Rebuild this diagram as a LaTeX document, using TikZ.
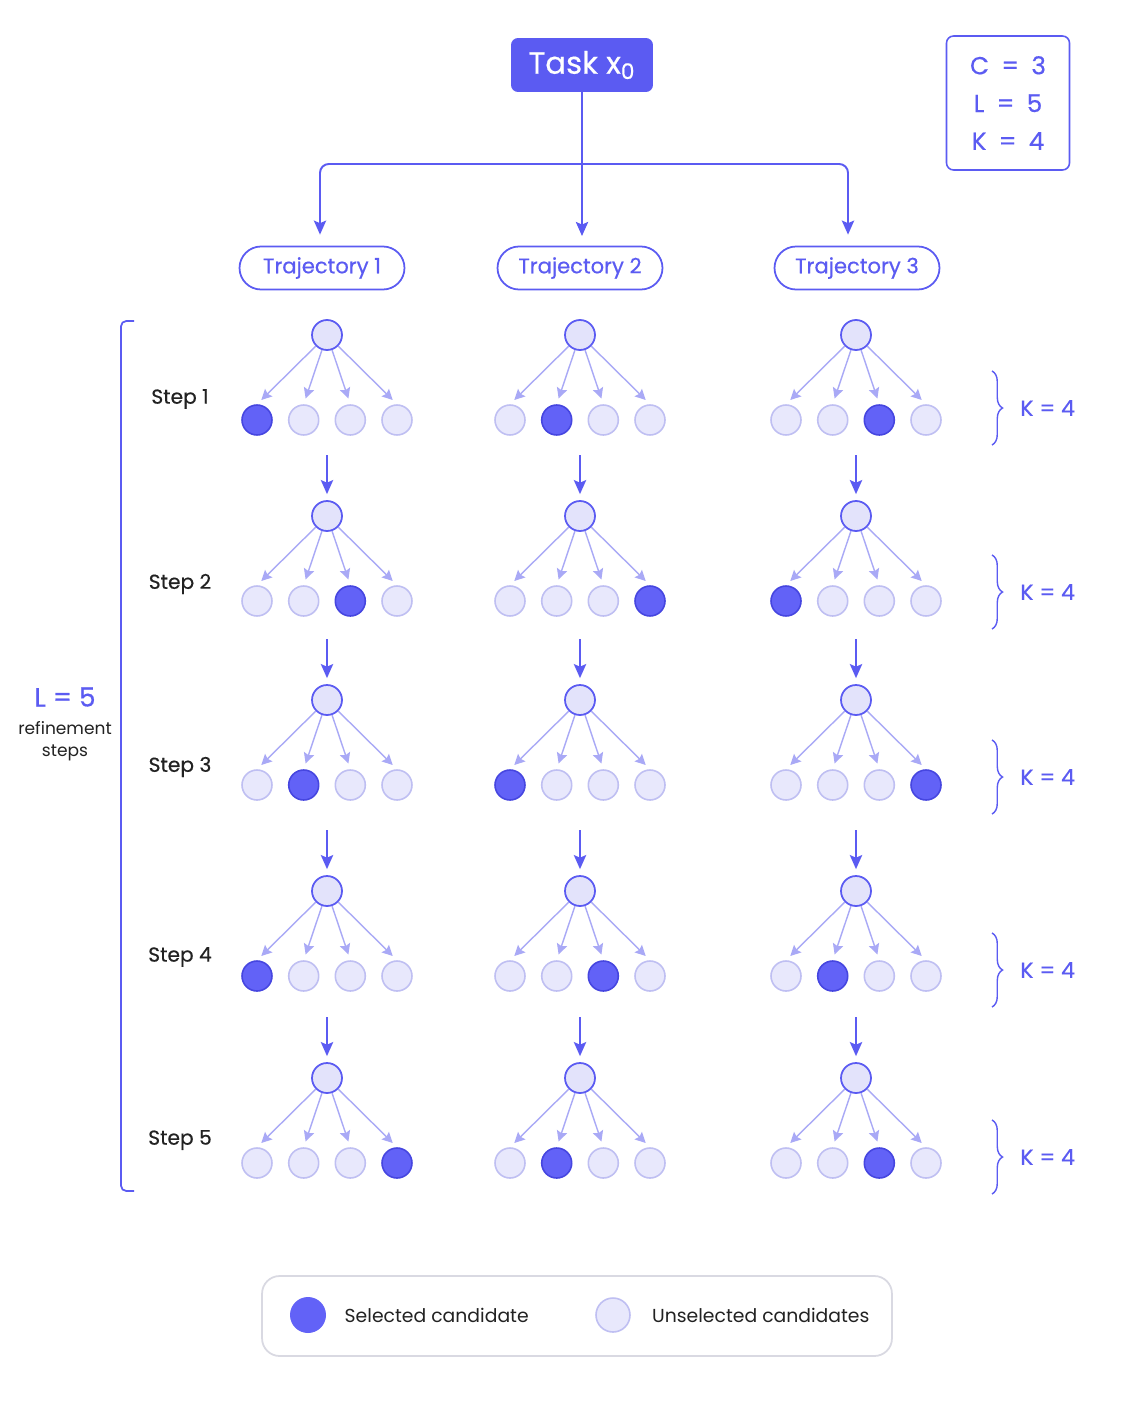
\documentclass[tikz,border=0pt]{standalone}
\usepackage{fontspec}
\setmainfont{Poppins}
\newfontfamily\medfont[FakeBold=0.5]{Poppins}
\usetikzlibrary{positioning, arrows.meta, decorations.pathreplacing}
\definecolor{mainBlue}{HTML}{5B5BF2}
\definecolor{selBlue}{HTML}{6262F7}
\definecolor{selEdge}{HTML}{4646E0}
\definecolor{rootFill}{HTML}{E3E3FB}
\definecolor{candFill}{HTML}{E8E8FC}
\definecolor{candEdge}{HTML}{BFBFF2}
\definecolor{treeArrow}{HTML}{A9A9F6}
\definecolor{legendEdge}{HTML}{D9D9E2}
\definecolor{textDark}{HTML}{222222}

\begin{document}
\begin{tikzpicture}[
    x=0.02cm, y=-0.02cm,
    >={Stealth[length=8pt,width=7pt,inset=1.5pt]},
    task/.style={fill=mainBlue, rounded corners=4pt, text=white, minimum width=2.84cm, minimum height=1.08cm, font=\medfont\fontsize{17.5}{20}\selectfont},
    params/.style={draw=mainBlue, line width=0.9pt, rounded corners=4pt, minimum width=2.46cm, minimum height=2.68cm, text=mainBlue, align=center, font=\medfont\fontsize{14}{21.5}\selectfont},
    trajbox/.style={draw=mainBlue, line width=1pt, rounded corners=0.43cm, minimum width=3.3cm, minimum height=0.86cm, text=mainBlue, font=\medfont\fontsize{12}{14}\selectfont},
    root/.style={circle, fill=rootFill, draw=mainBlue, line width=1pt, minimum size=0.6cm, inner sep=0pt},
    cand/.style={circle, fill=candFill, draw=candEdge, line width=0.9pt, minimum size=0.6cm, inner sep=0pt},
    chosen/.style={fill=selBlue, draw=selEdge},
    pick0/.style={},
    pick1/.style={chosen},
    flow/.style={->, draw=mainBlue, line width=1.1pt},
    fan/.style={-{Stealth[length=6pt,width=6pt,inset=1pt]}, draw=treeArrow, line width=0.8pt, shorten >=0.12cm},
    steplbl/.style={text=textDark, font=\medfont\fontsize{11.5}{14}\selectfont},
    klbl/.style={text=mainBlue, anchor=west, inner sep=0pt, font=\medfont\fontsize{12.5}{15}\selectfont},
    kbrace/.style={draw=mainBlue, line width=0.8pt, decorate, decoration={brace, amplitude=6pt}},
    legtxt/.style={text=textDark, inner sep=0pt, font=\fontsize{10.7}{14}\selectfont}
]
    \useasboundingbox[fill=white] (0,0) rectangle (1122,1402);

    \node[task] (task) at (582,65) {Task x\textsubscript{0}};
    \node[params] (params) at (1008,103) {C\enspace=\enspace3\\L\enspace=\enspace5\\K\enspace=\enspace4};

    \node[trajbox] (traj1) at (322,268) {Trajectory 1};
    \node[trajbox] (traj2) at (580,268) {Trajectory 2};
    \node[trajbox] (traj3) at (857,268) {Trajectory 3};

    % Split of the task into the trajectories
    \coordinate (split) at (582,164);
    \draw[flow, shorten >=0.22cm] (task) -- (split) -- (582,247);
    \draw[flow, rounded corners=5pt, shorten >=0.22cm] (split) -| ([xshift=-0.04cm]traj1.north);
    \draw[flow, rounded corners=5pt, shorten >=0.22cm] (split) -| ([xshift=-0.18cm]traj3.north);

    % One row of trees per refinement step
    \foreach \s/\yr/\yl/\yb/\picks in {1/335/399/408/{1,2,3}, 2/516/584/592/{3,4,1}, 3/700/767/777/{2,1,4}, 4/891/957/970/{1,3,2}, 5/1078/1140/1157/{4,2,3}} {
        \node[steplbl] (lbl-\s) at (180,\yl) {Step \s};
        \draw[kbrace] (992,\yb-37) -- (992,\yb+37);
        \node[klbl] (k-\s) at (1020,\yb) {K = 4};
        \foreach \pick [count=\t] in \picks {
            \pgfmathsetmacro{\xr}{{327,580,856}[\t-1]}
            \node[root] (r-\t-\s) at (\xr,\yr) {};
            \foreach \k/\dx in {1/-70, 2/-23.3, 3/23.3, 4/70} {
                \pgfmathtruncatemacro{\on}{\k==\pick}
                \node[cand, pick\on] (c-\t-\s-\k) at (\xr+\dx,\yr+85) {};
                \draw[fan] (r-\t-\s) -- (c-\t-\s-\k.north);
            }
            \ifnum\s>1
                \coordinate (go-\t-\s) at (\xr,\yr-61);
                \draw[flow, shorten >=0.12cm] (go-\t-\s) -- (r-\t-\s);
            \fi
        }
    }

    % Left bracket over all steps
    \draw[mainBlue, line width=1pt, rounded corners=3pt] (134,321) -| (121,1191) -- (134,1191);
    \node[text=mainBlue, font=\medfont\fontsize{15}{18}\selectfont] (lval) at (65,697) {L = 5};
    \node[text=textDark, align=center, font=\fontsize{9.7}{12.5}\selectfont, below=0.05cm of lval] (lnote) {refinement\\steps};

    % Legend
    \node[draw=legendEdge, line width=1pt, rounded corners=10pt, minimum width=12.6cm, minimum height=1.6cm] (legend) at (577,1316) {};
    \node[circle, fill=selBlue, minimum size=0.72cm, inner sep=0pt] (keysel) at (308,1315) {};
    \node[legtxt, right=0.36cm of keysel] (keyseltxt) {Selected candidate};
    \node[cand, minimum size=0.68cm] (keyoff) at (613,1315) {};
    \node[legtxt, right=0.42cm of keyoff] (keyofftxt) {Unselected candidates};
\end{tikzpicture}
\end{document}
